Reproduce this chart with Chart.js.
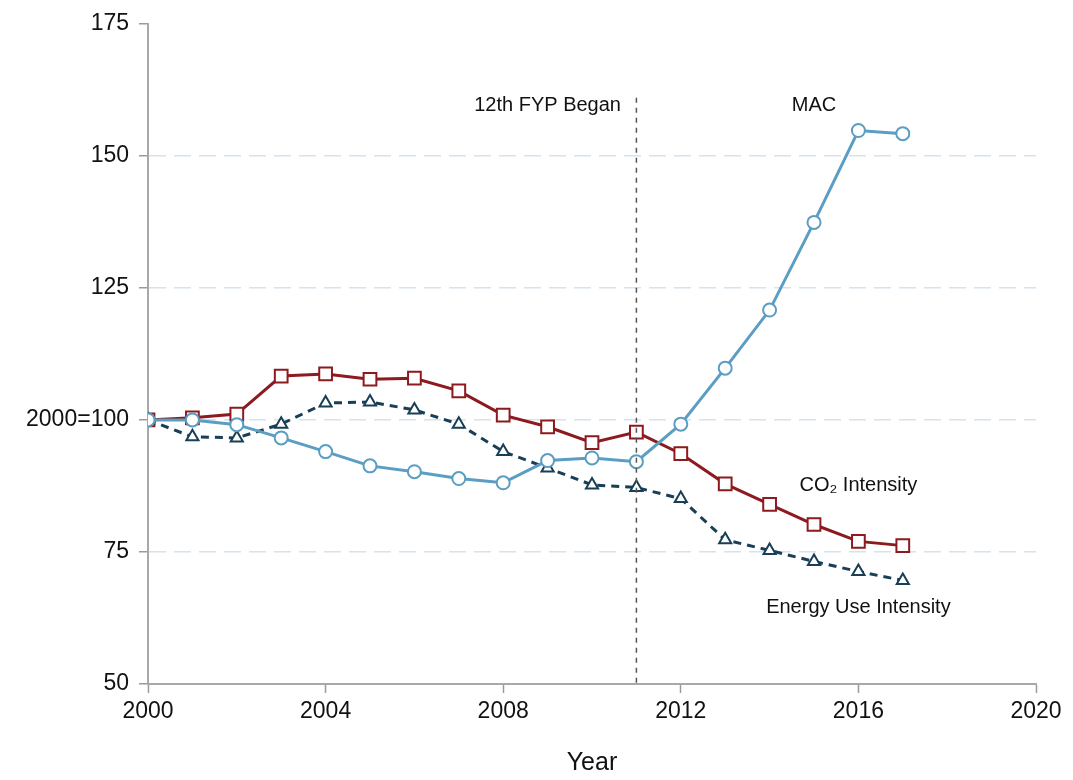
<!DOCTYPE html>
<html>
<head>
<meta charset="utf-8">
<script src="https://cdn.jsdelivr.net/npm/chart.js@4"></script>
<style>
  html, body { margin: 0; padding: 0; background: #fff; }
  #wrap { width: 1073px; height: 780px; }
</style>
</head>
<body>
<div id="wrap"><canvas id="chart" width="1073" height="780"></canvas></div>
<script>
const years = [2000, 2001, 2002, 2003, 2004, 2005, 2006, 2007, 2008, 2009, 2010, 2011, 2012, 2013, 2014, 2015, 2016, 2017];
const co2Intensity = [100, 100.4, 101.1, 108.3, 108.7, 107.7, 107.9, 105.5, 100.9, 98.7, 95.7, 97.7, 93.6, 87.9, 84.0, 80.2, 77.0, 76.2];
const macValues = [100, 100, 99.1, 96.6, 94.0, 91.3, 90.2, 88.9, 88.1, 92.3, 92.8, 92.1, 99.2, 109.8, 120.8, 137.4, 154.8, 154.2];
const energyIntensity = [100, 96.8, 96.6, 99.2, 103.2, 103.4, 101.9, 99.2, 94.0, 90.9, 87.7, 87.2, 85.1, 77.3, 75.3, 73.2, 71.3, 69.6];
const yTicks = [50, 75, 100, 125, 150, 175];
const xTicks = [2000, 2004, 2008, 2012, 2016, 2020];
const fypYear = 2011;
const labels = [
  { text: '12th FYP Began', x: 2009, y: 159.5 },
  { text: 'MAC', x: 2015.0, y: 159.5 },
  { text: 'CO\u2082 Intensity', x: 2016, y: 87.5 },
  { text: 'Energy Use Intensity', x: 2016, y: 64.5 }
];

const FONT = '"Liberation Sans", Arial, sans-serif';

const toPoints = vals => years.map((y, i) => ({ x: y, y: vals[i] }));

const overlay = {
  id: 'overlay',
  afterDatasetsDraw(chart) {
    const { ctx, scales: { x, y } } = chart;
    ctx.save();
    ctx.strokeStyle = '#555';
    ctx.lineWidth = 1.5;
    ctx.setLineDash([5, 5]);
    const px = x.getPixelForValue(fypYear);
    ctx.beginPath();
    ctx.moveTo(px, y.getPixelForValue(161));
    ctx.lineTo(px, y.getPixelForValue(50));
    ctx.stroke();
    ctx.setLineDash([]);
    ctx.fillStyle = '#111';
    ctx.font = '20px ' + FONT;
    ctx.textAlign = 'center';
    ctx.textBaseline = 'middle';
    labels.forEach(l => {
      ctx.fillText(l.text, x.getPixelForValue(l.x), y.getPixelForValue(l.y));
    });
    ctx.restore();
  }
};

new Chart(document.getElementById('chart'), {
  type: 'line',
  data: {
    datasets: [
      {
        label: 'MAC',
        data: toPoints(macValues),
        borderColor: '#5b9dc3',
        borderWidth: 3,
        pointStyle: 'circle',
        pointRadius: 6.5,
        pointBorderWidth: 2,
        pointBackgroundColor: '#fff',
        pointBorderColor: '#5b9dc3',
        tension: 0
      },
      {
        label: 'Energy Use Intensity',
        data: toPoints(energyIntensity),
        borderColor: '#183f55',
        borderWidth: 3,
        borderDash: [8, 6],
        pointStyle: 'triangle',
        pointRadius: 7,
        pointBorderWidth: 2,
        pointBackgroundColor: '#fff',
        pointBorderColor: '#183f55',
        tension: 0
      },
      {
        label: 'CO2 Intensity',
        data: toPoints(co2Intensity),
        borderColor: '#8c1a1f',
        borderWidth: 3,
        pointStyle: 'rect',
        pointRadius: 9,
        pointBorderWidth: 2,
        pointBackgroundColor: '#fff',
        pointBorderColor: '#8c1a1f',
        tension: 0
      }
    ]
  },
  options: {
    responsive: false,
    animation: false,
    layout: { padding: { top: 22, right: 37, left: 0, bottom: 0 } },
    plugins: {
      legend: { display: false },
      tooltip: { enabled: false }
    },
    scales: {
      x: {
        type: 'linear',
        min: 2000,
        max: 2020,
        afterBuildTicks: s => { s.ticks = xTicks.map(v => ({ value: v })); },
        afterFit: s => { s.height = 96; },
        ticks: {
          color: '#111',
          font: { family: FONT, size: 23 },
          padding: 5,
          maxRotation: 0,
          callback: v => String(v)
        },
        grid: {
          drawOnChartArea: false,
          tickLength: 9,
          tickColor: '#9a9a9a',
          tickWidth: 1.5
        },
        border: { color: '#a8a8a8', width: 2 },
        title: {
          display: true,
          text: 'Year',
          color: '#111',
          font: { family: FONT, size: 25 },
          padding: { top: 6, bottom: 2 }
        }
      },
      y: {
        min: 50,
        max: 175,
        afterBuildTicks: s => { s.ticks = yTicks.map(v => ({ value: v })); },
        afterFit: s => { s.width = 148; },
        ticks: {
          color: '#111',
          font: { family: FONT, size: 23 },
          padding: 10,
          callback: v => v === 100 ? '2000=100' : String(v)
        },
        grid: {
          color: ctx => (ctx.tick && (ctx.tick.value === 50 || ctx.tick.value === 175)) ? 'rgba(0,0,0,0)' : '#d3e4ee',
          lineWidth: 1.5,
          tickLength: 9,
          tickColor: '#9a9a9a',
          tickWidth: 1.5,
          tickBorderDash: []
        },
        border: { color: '#a8a8a8', width: 2, dash: [17, 8] }
      }
    }
  },
  plugins: [overlay]
});
</script>
</body>
</html>
